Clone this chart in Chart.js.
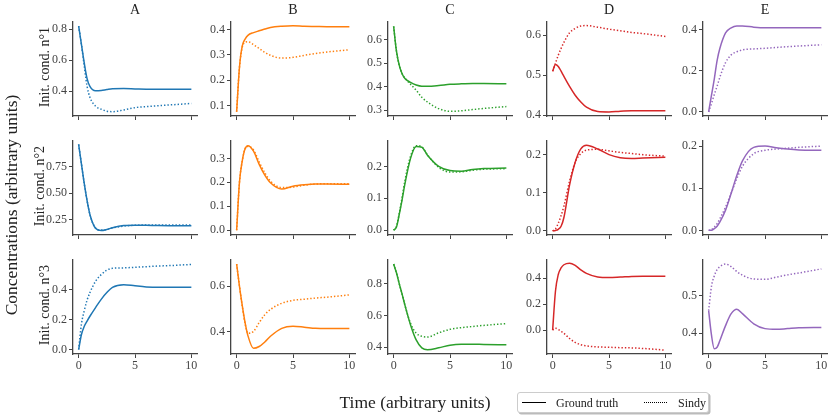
<!DOCTYPE html>
<html>
<head>
<meta charset="utf-8">
<script src="https://cdn.jsdelivr.net/npm/chart.js@4.4.1/dist/chart.umd.min.js"></script>
<style>
    body { margin: 0; background: #fff; }
    #fig { position: relative; width: 831px; height: 417px; overflow: hidden;
           font-family: 'Liberation Serif', 'DejaVu Serif', serif; color: #222; }
    #fig canvas { position: absolute; }
    .lbl { position: absolute; white-space: nowrap; line-height: 1; }
    .rot { transform: translate(-50%, -50%) rotate(-90deg); }
    .ctr { transform: translate(-50%, -50%); }
    #legend { position: absolute; left: 517px; top: 392px; width: 190px; height: 19px;
              border: 1px solid #ccc; border-radius: 3px; box-shadow: 1.5px 1.5px 0 #bbb;
              font-size: 12px; background: #fff; }
    #legend span { position: absolute; top: 3px; }
    #legend i { position: absolute; top: 9px; height: 0; }
</style>
</head>
<body>
<div id="fig"></div>
<script>
// sample times, shared by every panel
const times = [0, 0.25, 0.5, 0.75, 1, 1.5, 2, 2.5, 3, 4, 5, 6, 7, 8, 10];
const species = ['A', 'B', 'C', 'D', 'E'];
const conditions = ['Init. cond. n°1', 'Init. cond. n°2', 'Init. cond. n°3'];
const xTicks = ['0', '5', '10'];

// initial condition 1
const truthA1 = [0.82, 0.70, 0.58, 0.48, 0.43, 0.402, 0.404, 0.41, 0.415, 0.416, 0.414, 0.412, 0.411, 0.411, 0.411];
const sindyA1 = [0.82, 0.70, 0.56, 0.43, 0.36, 0.302, 0.283, 0.27, 0.267, 0.278, 0.293, 0.30, 0.305, 0.31, 0.32];
const truthB1 = [0.075, 0.25, 0.335, 0.362, 0.377, 0.388, 0.395, 0.402, 0.408, 0.413, 0.415, 0.413, 0.412, 0.411, 0.411];
const sindyB1 = [0.075, 0.25, 0.33, 0.35, 0.352, 0.34, 0.325, 0.31, 0.298, 0.287, 0.29, 0.298, 0.305, 0.311, 0.32];
const truthC1 = [0.655, 0.55, 0.49, 0.455, 0.435, 0.418, 0.407, 0.402, 0.402, 0.405, 0.41, 0.412, 0.413, 0.413, 0.412];
const sindyC1 = [0.655, 0.55, 0.49, 0.455, 0.437, 0.41, 0.385, 0.355, 0.335, 0.307, 0.296, 0.298, 0.303, 0.308, 0.316];
const truthD1 = [0.51, 0.527, 0.522, 0.51, 0.497, 0.472, 0.45, 0.433, 0.42, 0.409, 0.408, 0.41, 0.411, 0.411, 0.411];
const sindyD1 = [0.51, 0.53, 0.55, 0.567, 0.582, 0.606, 0.617, 0.623, 0.624, 0.62, 0.615, 0.611, 0.607, 0.604, 0.597];
const truthE1 = [0, 0.08, 0.16, 0.25, 0.31, 0.385, 0.41, 0.419, 0.419, 0.413, 0.41, 0.41, 0.41, 0.41, 0.41];
const sindyE1 = [0, 0.04, 0.085, 0.125, 0.17, 0.24, 0.278, 0.293, 0.302, 0.307, 0.31, 0.314, 0.318, 0.321, 0.327];

// initial condition 2
const truthA2 = [0.96, 0.775, 0.59, 0.43, 0.30, 0.17, 0.148, 0.158, 0.175, 0.195, 0.198, 0.197, 0.195, 0.194, 0.194];
const sindyA2 = [0.96, 0.775, 0.59, 0.43, 0.30, 0.172, 0.152, 0.158, 0.172, 0.19, 0.198, 0.2, 0.2, 0.2, 0.2];
const truthB2 = [0, 0.2, 0.29, 0.34, 0.353, 0.33, 0.275, 0.23, 0.198, 0.172, 0.184, 0.19, 0.193, 0.193, 0.192];
const sindyB2 = [0, 0.2, 0.29, 0.34, 0.35, 0.335, 0.285, 0.24, 0.205, 0.178, 0.18, 0.188, 0.193, 0.194, 0.194];
const truthC2 = [0, 0.01, 0.05, 0.095, 0.145, 0.225, 0.262, 0.26, 0.235, 0.2, 0.187, 0.185, 0.19, 0.193, 0.195];
const sindyC2 = [0, 0.012, 0.053, 0.102, 0.155, 0.232, 0.265, 0.261, 0.236, 0.197, 0.182, 0.183, 0.188, 0.191, 0.193];
const truthD2 = [0, 0.001, 0.004, 0.012, 0.035, 0.12, 0.18, 0.215, 0.225, 0.215, 0.2, 0.192, 0.19, 0.191, 0.193];
const sindyD2 = [0, 0.005, 0.02, 0.04, 0.065, 0.13, 0.18, 0.203, 0.212, 0.214, 0.21, 0.206, 0.203, 0.2, 0.196];
const truthE2 = [0, 0, 0.004, 0.01, 0.02, 0.048, 0.088, 0.13, 0.165, 0.197, 0.2, 0.196, 0.193, 0.191, 0.19];
const sindyE2 = [0, 0.002, 0.008, 0.016, 0.028, 0.055, 0.088, 0.123, 0.152, 0.182, 0.19, 0.193, 0.195, 0.197, 0.2];

// initial condition 3
const truthA3 = [0, 0.1, 0.155, 0.19, 0.222, 0.28, 0.335, 0.38, 0.415, 0.433, 0.425, 0.418, 0.415, 0.415, 0.416];
const sindyA3 = [0, 0.17, 0.26, 0.33, 0.38, 0.455, 0.5, 0.53, 0.542, 0.545, 0.549, 0.553, 0.557, 0.56, 0.568];
const truthB3 = [0.698, 0.6, 0.515, 0.44, 0.383, 0.327, 0.335, 0.355, 0.38, 0.415, 0.424, 0.42, 0.415, 0.414, 0.414];
const sindyB3 = [0.698, 0.6, 0.512, 0.435, 0.393, 0.402, 0.44, 0.475, 0.498, 0.525, 0.538, 0.543, 0.548, 0.552, 0.562];
const truthC3 = [0.925, 0.87, 0.8, 0.735, 0.665, 0.54, 0.445, 0.395, 0.383, 0.395, 0.412, 0.418, 0.418, 0.416, 0.415];
const sindyC3 = [0.925, 0.87, 0.8, 0.735, 0.665, 0.55, 0.488, 0.468, 0.463, 0.49, 0.512, 0.523, 0.53, 0.537, 0.548];
const truthD3 = [0, 0.3, 0.43, 0.48, 0.505, 0.517, 0.5, 0.465, 0.438, 0.41, 0.406, 0.41, 0.415, 0.417, 0.417];
const sindyD3 = [0, 0.015, 0.005, -0.01, -0.025, -0.065, -0.095, -0.113, -0.122, -0.13, -0.133, -0.136, -0.138, -0.142, -0.155];
const truthE3 = [0.46, 0.395, 0.358, 0.362, 0.38, 0.42, 0.452, 0.464, 0.452, 0.425, 0.412, 0.41, 0.412, 0.414, 0.415];
const sindyE3 = [0.46, 0.525, 0.553, 0.57, 0.578, 0.585, 0.578, 0.565, 0.555, 0.545, 0.544, 0.55, 0.556, 0.561, 0.572];

// y tick labels per panel
const yTicksA1 = ['0.4', '0.6', '0.8'];
const yTicksB1 = ['0.1', '0.2', '0.3', '0.4'];
const yTicksC1 = ['0.3', '0.4', '0.5', '0.6'];
const yTicksD1 = ['0.4', '0.5', '0.6'];
const yTicksE1 = ['0.0', '0.2', '0.4'];
const yTicksA2 = ['0.25', '0.50', '0.75'];
const yTicksB2 = ['0.0', '0.1', '0.2', '0.3'];
const yTicksC2 = ['0.0', '0.1', '0.2'];
const yTicksD2 = ['0.0', '0.1', '0.2'];
const yTicksE2 = ['0.0', '0.1', '0.2'];
const yTicksA3 = ['0.0', '0.2', '0.4'];
const yTicksB3 = ['0.4', '0.6'];
const yTicksC3 = ['0.4', '0.6', '0.8'];
const yTicksD3 = ['0.0', '0.2', '0.4'];
const yTicksE3 = ['0.4', '0.5'];

// y limits per panel [min, max]
const yLimA1 = [0.239, 0.851], yLimB1 = [0.058, 0.433], yLimC1 = [0.276, 0.677], yLimD1 = [0.398, 0.635], yLimE1 = [-0.02, 0.442];
const yLimA2 = [0.106, 1.0],  yLimB2 = [-0.02, 0.376], yLimC2 = [-0.015, 0.282], yLimD2 = [-0.011, 0.238], yLimE2 = [-0.011, 0.214];
const yLimA3 = [-0.03, 0.603], yLimB3 = [0.302, 0.719], yLimC3 = [0.356, 0.956], yLimD3 = [-0.185, 0.548], yLimE3 = [0.344, 0.598];

const panels = {
    A1: [truthA1, sindyA1, yTicksA1, yLimA1], B1: [truthB1, sindyB1, yTicksB1, yLimB1],
    C1: [truthC1, sindyC1, yTicksC1, yLimC1], D1: [truthD1, sindyD1, yTicksD1, yLimD1],
    E1: [truthE1, sindyE1, yTicksE1, yLimE1],
    A2: [truthA2, sindyA2, yTicksA2, yLimA2], B2: [truthB2, sindyB2, yTicksB2, yLimB2],
    C2: [truthC2, sindyC2, yTicksC2, yLimC2], D2: [truthD2, sindyD2, yTicksD2, yLimD2],
    E2: [truthE2, sindyE2, yTicksE2, yLimE2],
    A3: [truthA3, sindyA3, yTicksA3, yLimA3], B3: [truthB3, sindyB3, yTicksB3, yLimB3],
    C3: [truthC3, sindyC3, yTicksC3, yLimC3], D3: [truthD3, sindyD3, yTicksD3, yLimD3],
    E3: [truthE3, sindyE3, yTicksE3, yLimE3]
};

// layout (pixels)
const colors = ['#1f77b4', '#ff7f0e', '#2ca02c', '#d62728', '#9467bd'];
const colLeft = [73, 231, 388, 547, 703];
const rowTop = [17, 136, 255];
const rowLabelX = [45, 40, 45];
const plotW = 124, plotH = 99;
const padL = 40, padT = 5, padR = 6, padB = 22;
const axisColor = '#444';
const tickFont = { family: "'Liberation Serif', serif", size: 12 };

const fig = document.getElementById('fig');

function addLabel(text, x, y, size, cls) {
    const d = document.createElement('div');
    d.className = 'lbl ' + cls;
    d.style.left = x + 'px';
    d.style.top = y + 'px';
    d.style.fontSize = size + 'px';
    d.textContent = text;
    fig.appendChild(d);
}

function toPoints(values) {
    return values.map((v, i) => ({ x: times[i], y: v }));
}

function makePanel(row, col) {
    const key = species[col] + (row + 1);
    const [truth, sindy, yLabels, yLim] = panels[key];
    const yVals = yLabels.map(parseFloat);
    const xVals = xTicks.map(parseFloat);
    const showX = row === 2;

    const canvas = document.createElement('canvas');
    const w = plotW + padL + padR, h = plotH + padT + padB;
    canvas.width = w; canvas.height = h;
    canvas.style.width = w + 'px'; canvas.style.height = h + 'px';
    canvas.style.left = (colLeft[col] - padL) + 'px';
    canvas.style.top = (rowTop[row] - padT) + 'px';
    fig.appendChild(canvas);

    const line = {
        borderColor: colors[col], borderWidth: 1.5, pointRadius: 0,
        cubicInterpolationMode: 'monotone', fill: false
    };

    return new Chart(canvas, {
        type: 'line',
        data: {
            datasets: [
                Object.assign({ label: 'Ground truth', data: toPoints(truth) }, line),
                Object.assign({ label: 'Sindy', data: toPoints(sindy), borderDash: [1.4, 2] }, line)
            ]
        },
        options: {
            responsive: false,
            animation: false,
            events: [],
            layout: { padding: { top: padT, right: padR, left: 0, bottom: 0 } },
            plugins: { legend: { display: false }, tooltip: { enabled: false } },
            scales: {
                x: {
                    type: 'linear', min: -0.5, max: 10.5,
                    afterBuildTicks: s => { s.ticks = xVals.map(v => ({ value: v })); },
                    afterFit: s => { s.height = padB; },
                    grid: { drawOnChartArea: false, drawTicks: true, tickLength: 4, color: axisColor },
                    border: { display: true, color: axisColor, width: 1.3 },
                    ticks: {
                        display: showX, padding: 1, color: '#444', font: tickFont,
                        maxRotation: 0, autoSkip: false,
                        callback: v => xTicks[xVals.indexOf(v)]
                    }
                },
                y: {
                    type: 'linear', min: yLim[0], max: yLim[1],
                    afterBuildTicks: s => { s.ticks = yVals.map(v => ({ value: v })); },
                    afterFit: s => { s.width = padL; },
                    grid: { drawOnChartArea: false, drawTicks: true, tickLength: 4, color: axisColor },
                    border: { display: true, color: axisColor, width: 1.3 },
                    ticks: {
                        padding: 2, color: '#444', font: tickFont, autoSkip: false,
                        callback: v => yLabels[yVals.indexOf(v)]
                    }
                }
            }
        }
    });
}

for (let r = 0; r < 3; r++) {
    for (let c = 0; c < 5; c++) makePanel(r, c);
}

// column titles, row titles, figure labels
species.forEach((s, c) => addLabel(s, colLeft[c] + plotW / 2, 10, 14, 'ctr'));
conditions.forEach((t, r) => addLabel(t, rowLabelX[r], rowTop[r] + plotH / 2, 14, 'rot'));
addLabel('Concentrations (arbitrary units)', 12, 205, 17.5, 'rot');
addLabel('Time (arbitrary units)', 415, 403, 17.5, 'ctr');

// figure legend
const legend = document.createElement('div');
legend.id = 'legend';
legend.innerHTML =
    '<i style="left:4px;width:24px;border-top:1.5px solid #000"></i>' +
    '<span style="left:38px">Ground truth</span>' +
    '<i style="left:126px;width:23px;border-top:1.5px dotted #000"></i>' +
    '<span style="left:160px">Sindy</span>';
fig.appendChild(legend);
</script>
</body>
</html>
